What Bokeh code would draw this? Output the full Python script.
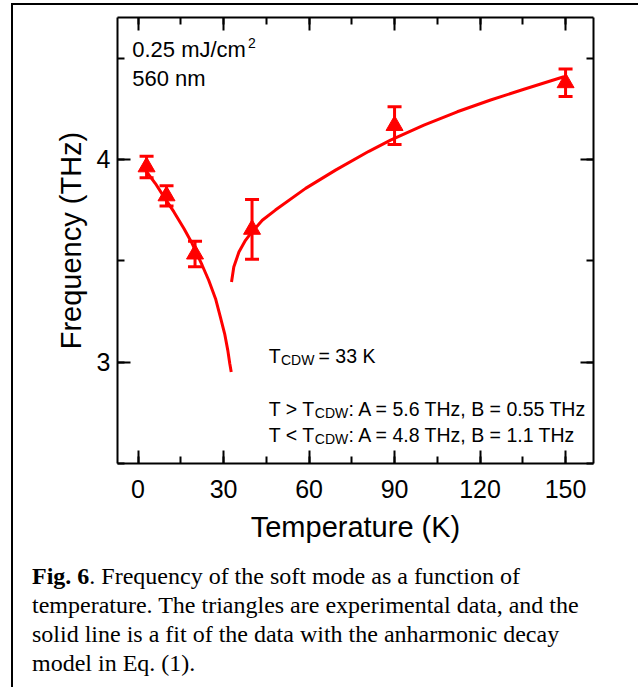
from bokeh.plotting import figure
from bokeh.layouts import column
from bokeh.models import (ColumnDataSource, Whisker, TeeHead, Label, LinearAxis,
                          SingleIntervalTicker, Range1d, Div)
from bokeh.embed import file_html
from bokeh.resources import INLINE

# ---- data ----
temp_k = [3, 10, 20, 40, 90, 150]
freq_thz = [3.963, 3.820, 3.533, 3.655, 4.167, 4.378]
freq_err = [0.053, 0.050, 0.063, 0.147, 0.093, 0.068]

fit_low_t = [2.6, 6.1, 9.1, 12.6, 16.1, 19.0, 22.5, 24.8, 27.2, 28.9, 30.4, 31.5, 32.2, 32.7]
fit_low_f = [3.947, 3.881, 3.815, 3.741, 3.659, 3.585, 3.478, 3.404, 3.313, 3.222, 3.140, 3.058, 2.992, 2.951]

fit_high_t = [32.8, 33.6, 35.4, 37.7, 39.5, 43.6, 48.2, 58.8, 69.3, 81.0, 88.6, 100.3, 112.0, 123.7, 135.4, 149.4]
fit_high_f = [3.395, 3.469, 3.543, 3.601, 3.634, 3.700, 3.750, 3.857, 3.947, 4.040, 4.095, 4.169, 4.235, 4.293, 4.346, 4.408]

x_tick_step = 30
y_tick_step = 1

caption_lines = [
    "<b>Fig. 6</b>. Frequency of the soft mode as a function of",
    "temperature. The triangles are experimental data, and the",
    "solid line is a fit of the data with the anharmonic decay",
    "model in Eq. (1).",
]

RED = "#ff0000"
SANS = "Liberation Sans"
SERIF = "Liberation Serif"

p = figure(width=621, height=545, output_backend="svg", toolbar_location=None,
           x_range=Range1d(-7.2, 159.8), y_range=Range1d(2.5, 4.7),
           x_axis_location=None, y_axis_location=None,
           min_border_left=104, min_border_right=41, min_border_top=12, min_border_bottom=87)
p.grid.visible = False
p.outline_line_color = None
p.background_fill_color = "white"
p.border_fill_color = "white"


def make_axis(ticker, labels, **kw):
    ax = LinearAxis(ticker=ticker,
                    axis_line_width=2, axis_line_color="black",
                    major_tick_line_width=2, minor_tick_line_width=2,
                    major_tick_line_color="black", minor_tick_line_color="black",
                    major_tick_in=13, major_tick_out=0,
                    minor_tick_in=7, minor_tick_out=0,
                    major_label_text_font=SANS,
                    major_label_text_color="black",
                    axis_label_text_font=SANS,
                    axis_label_text_font_style="normal",
                    axis_label_text_color="black", **kw)
    if not labels:
        ax.major_label_text_color = None
        ax.major_label_text_font_size = "1px"
        ax.major_label_standoff = 0
    return ax


xt = SingleIntervalTicker(interval=x_tick_step, num_minor_ticks=2)
yt = SingleIntervalTicker(interval=y_tick_step, num_minor_ticks=2)

xb = make_axis(xt, True, axis_label="Temperature (K)", axis_label_text_font_size="29px",
               major_label_text_font_size="25px", major_label_standoff=16, axis_label_standoff=10)
yl = make_axis(yt, True, axis_label="Frequency (THz)", axis_label_text_font_size="29px",
               major_label_text_font_size="25px", major_label_standoff=7, axis_label_standoff=7)
xa = make_axis(xt, False)
yr = make_axis(yt, False)
p.add_layout(xb, "below")
p.add_layout(yl, "left")
p.add_layout(xa, "above")
p.add_layout(yr, "right")

# ---- data glyphs ----
src = ColumnDataSource(dict(
    t=temp_k, f=freq_thz,
    lo=[f - e for f, e in zip(freq_thz, freq_err)],
    hi=[f + e for f, e in zip(freq_thz, freq_err)],
))

p.line(fit_low_t, fit_low_f, line_color=RED, line_width=3)
p.line(fit_high_t, fit_high_f, line_color=RED, line_width=3)

wh = Whisker(source=src, base="t", lower="lo", upper="hi", dimension="height",
             line_color=RED, line_width=3,
             upper_head=TeeHead(size=14, line_color=RED, line_width=3),
             lower_head=TeeHead(size=14, line_color=RED, line_width=3))
p.add_layout(wh)
p.scatter("t", "f", source=src, marker="triangle", size=17,
          fill_color=RED, line_color=RED, line_width=1)


# ---- annotations (screen units relative to plot frame) ----
def lab(x, y, text, size, font=SANS, style="normal"):
    p.add_layout(Label(x=x, y=y, x_units="screen", y_units="screen", text=text,
                       text_font=font, text_font_size=size, text_font_style=style,
                       text_color="black", text_baseline="alphabetic", text_align="left"))


lab(14.7, 414, "0.25 mJ/cm", "22px")
lab(130.5, 421, "2", "14px")
lab(14.7, 385, "560 nm", "22px")

lab(151.3, 108, "T", "19.5px")
lab(163.5, 104, "CDW", "14px")
lab(201, 108, "= 33 K", "19.5px")

lab(151.3, 55, "T > T", "19.5px")
lab(197.3, 51, "CDW", "14px")
lab(231, 55, ": A = 5.6 THz, B = 0.55 THz", "19.5px")

lab(151.3, 28.5, "T < T", "19.5px")
lab(197.3, 24.5, "CDW", "14px")
lab(231, 28.5, ": A = 4.8 THz, B = 1.1 THz", "19.5px")

# ---- caption ----
cap = Div(text="<div style='font-family:\"Liberation Serif\";font-size:24px;line-height:29px;"
               "color:black;white-space:nowrap;padding:7px 0 0 14px;'>"
               + "<br>".join(caption_lines) + "</div>",
          width=621, height=137,
          styles={"font-family": SERIF, "font-size": "24px", "color": "black"})

root = column(p, cap, spacing=0,
              styles={"border-left": "2px solid black", "border-top": "2px solid black",
                      "border-right": "2px solid black", "margin-left": "11px",
                      "margin-top": "3px", "background": "white"})

open("out.html", "w").write(file_html(root, INLINE))
